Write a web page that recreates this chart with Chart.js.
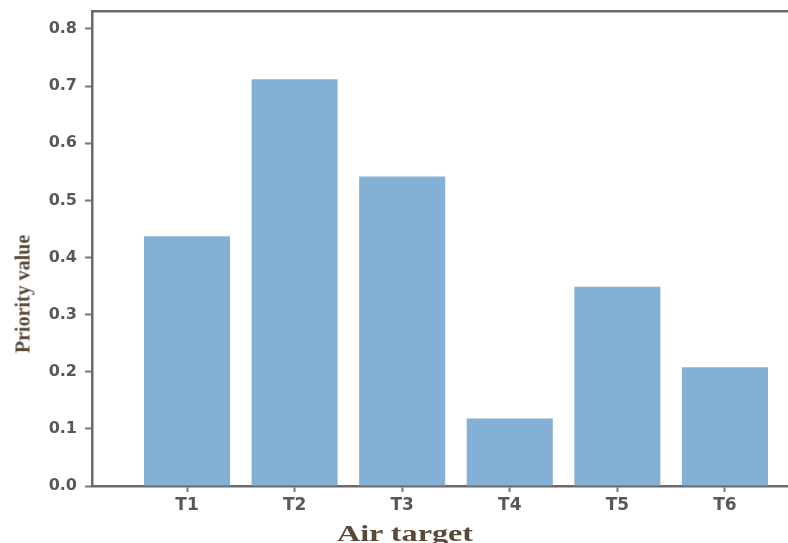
<!DOCTYPE html>
<html>
<head>
<meta charset="utf-8">
<script src="https://cdn.jsdelivr.net/npm/chart.js@4.4.1/dist/chart.umd.min.js"></script>
<style>
  html, body { margin: 0; padding: 0; background: #fff; overflow: hidden; }
  #wrap { position: relative; width: 788px; height: 543px; }
  #c { position: absolute; left: 0; top: 0; }
  .ytitle {
    position: absolute; left: 23px; top: 294px;
    transform: translate(-50%, -50%) rotate(-90deg);
    font-family: "Liberation Serif", "DejaVu Serif", serif; font-weight: bold;
    font-size: 20px; color: #5a4838; white-space: nowrap;
  }
  .xtitle {
    position: absolute; left: 405px; top: 534px;
    transform: translate(-50%, -50%) scaleX(1.4);
    font-family: "Liberation Serif", "DejaVu Serif", serif; font-weight: bold;
    font-size: 23px; color: #5a4838; white-space: nowrap;
  }
</style>
</head>
<body>
<div id="wrap">
  <canvas id="c" width="788" height="543"></canvas>
  <div class="ytitle">Priority value</div>
  <div class="xtitle">Air target</div>
</div>
<script>
const categories = ["T1", "T2", "T3", "T4", "T5", "T6"];
const priorityValues = [0.437, 0.712, 0.542, 0.118, 0.349, 0.208];
const yTicks = [0.0, 0.1, 0.2, 0.3, 0.4, 0.5, 0.6, 0.7, 0.8];

const points = categories.map((c, i) => ({ x: i, y: priorityValues[i] }));

const yFont = { family: "'DejaVu Sans', sans-serif", size: 16, weight: 'bold' };
const xFont = { family: "'DejaVu Sans', sans-serif", size: 17, weight: 'bold' };

new Chart(document.getElementById('c'), {
  type: 'bar',
  data: {
    datasets: [{
      data: points,
      backgroundColor: '#83b0d4',
      borderWidth: 0,
      barPercentage: 0.8,
      categoryPercentage: 1.0
    }]
  },
  options: {
    responsive: false,
    animation: false,
    plugins: { legend: { display: false }, tooltip: { enabled: false } },
    layout: { padding: 0 },
    scales: {
      x: {
        type: 'linear',
        position: 'bottom',
        offset: false,
        min: -0.883,
        max: 5.586,
        afterBuildTicks: s => { s.ticks = categories.map((c, i) => ({ value: i })); },
        afterFit: s => { s.height = 57; s.paddingLeft = 0; s.paddingRight = 0; },
        ticks: {
          callback: v => categories[v],
          font: xFont, color: '#585858', padding: 3, maxRotation: 0, autoSkip: false
        },
        grid: { offset: false, drawOnChartArea: false, drawTicks: true, tickLength: 6, tickWidth: 2, tickColor: '#777' },
        border: { display: true, color: '#6a6a6a', width: 2.5 }
      },
      xTop: {
        type: 'linear',
        position: 'top',
        offset: false,
        min: -0.883,
        max: 5.586,
        afterFit: s => { s.height = 11; s.paddingLeft = 0; s.paddingRight = 0; },
        ticks: { display: false },
        grid: { display: false, drawOnChartArea: false, drawTicks: false },
        border: { display: true, color: '#6a6a6a', width: 2.5 }
      },
      y: {
        type: 'linear',
        min: 0,
        max: 0.8315,
        afterBuildTicks: s => { s.ticks = yTicks.map(v => ({ value: v })); },
        afterFit: s => { s.width = 92; s.paddingTop = 0; s.paddingBottom = 0; },
        ticks: {
          callback: v => Number(v).toFixed(1),
          font: yFont, color: '#585858', padding: 8
        },
        grid: { drawOnChartArea: false, drawTicks: true, tickLength: 7, tickWidth: 2, tickColor: '#777' },
        border: { display: true, color: '#6a6a6a', width: 2.5 }
      }
    }
  }
});
</script>
</body>
</html>
